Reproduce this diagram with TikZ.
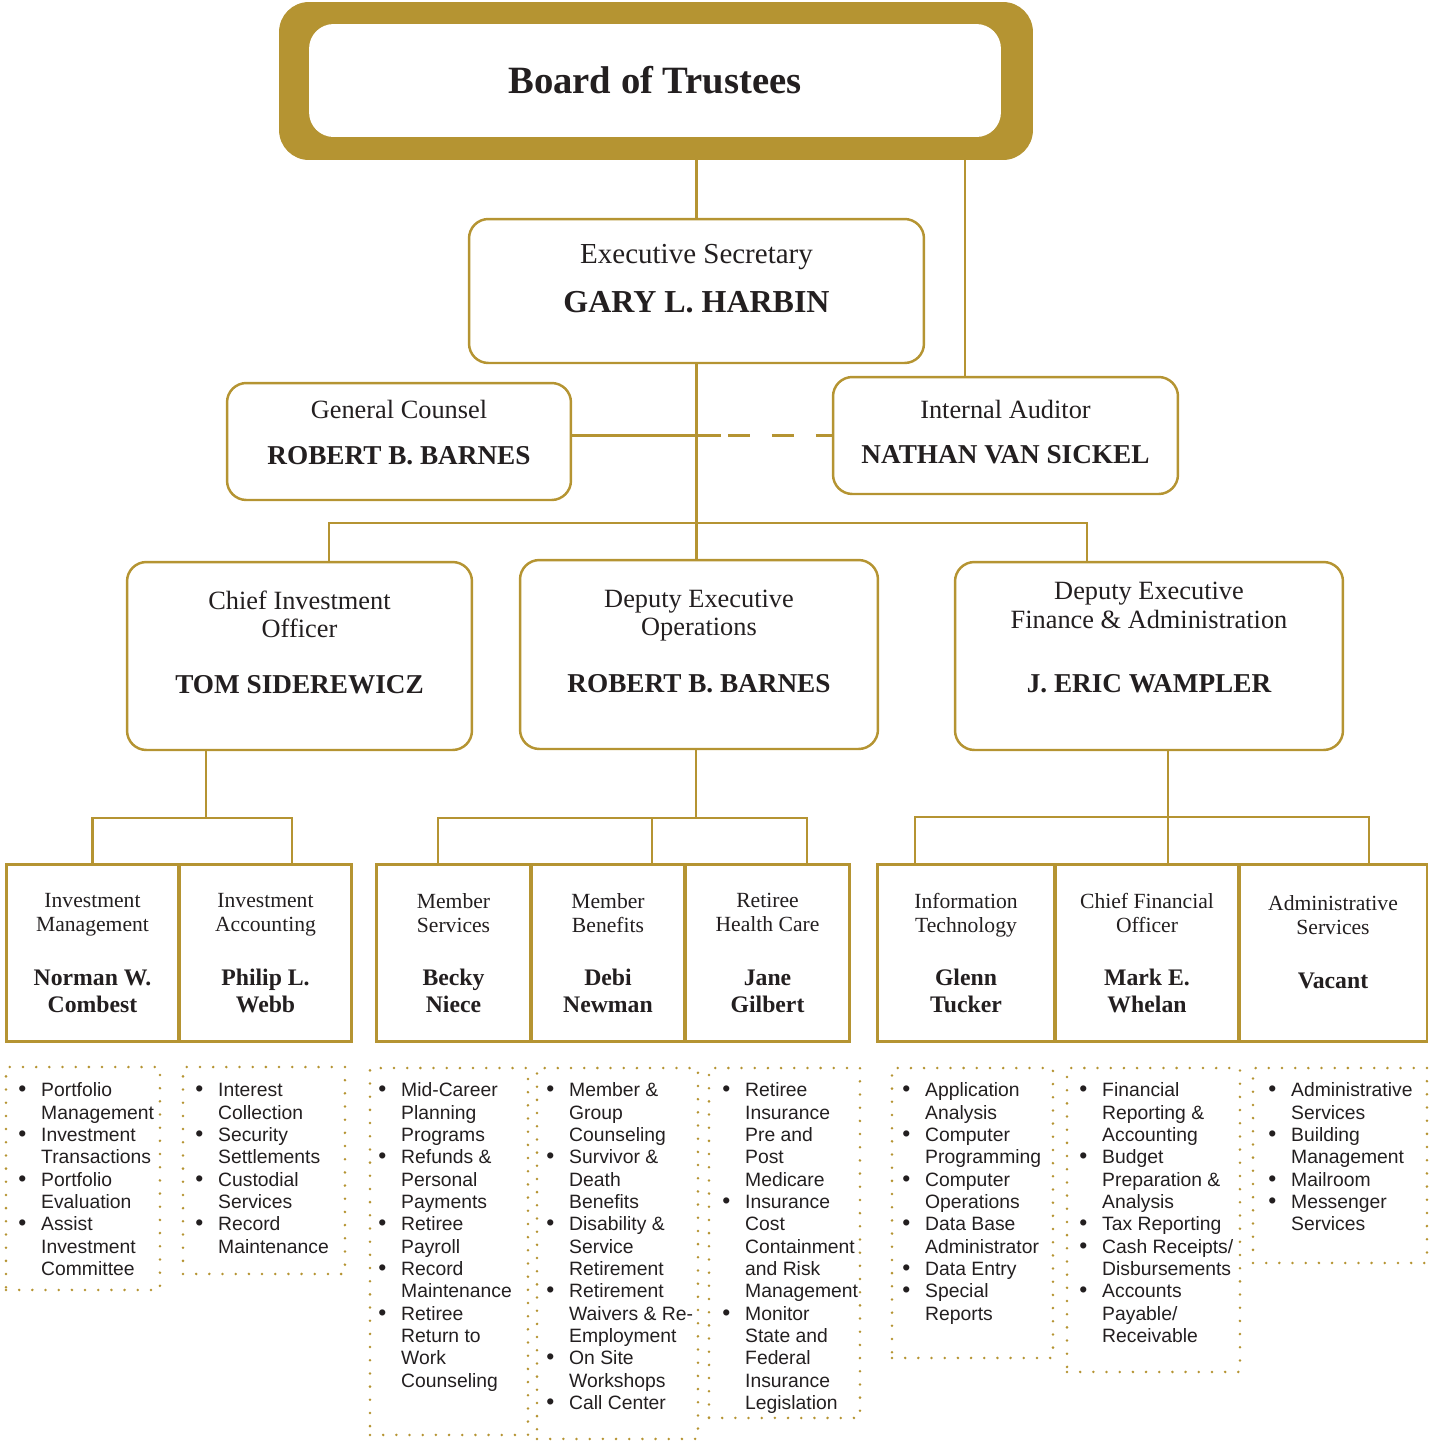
\documentclass[tikz,border=0pt]{standalone}
\usepackage{fontspec}
\setmainfont{Liberation Serif}
\setsansfont{Liberation Sans}
\definecolor{gold}{RGB}{181,148,50}
\definecolor{ink}{RGB}{35,31,32}
\newcommand{\postfont}{\fontsize{15}{16}\selectfont}
\newcommand{\namefont}{\fontsize{15.5}{16}\selectfont\bfseries}
\newcommand{\unitname}{\fontsize{13.5}{14}\selectfont\bfseries}
\newcommand{\blt}{{\fontsize{13}{12}\selectfont\textbullet}}

\begin{document}
\begin{tikzpicture}[x=0.02cm,y=-0.02cm,
post/.style={draw=gold,line width=1.4pt,rounded corners=11pt,fill=white,align=center,text=ink,font=\postfont},
unit/.style={draw=gold,line width=1.7pt,fill=white,align=center,text=ink,minimum height=3.54cm,font=\fontsize{12.3}{13.6}\selectfont},
duties/.style={draw=gold,line width=1.6pt,dash pattern=on 0pt off 7.5pt,line cap=round,anchor=north west,outer sep=0pt},
items/.style={anchor=north west,inner sep=0pt,text=ink,font=\sffamily\fontsize{11}{12.7}\selectfont},
link/.style={draw=gold,line width=1.4pt}]
\useasboundingbox (0,0) rectangle (1429,1441);

% board
\node (board) [fill=gold,rounded corners=17pt,minimum width=15.08cm,minimum height=3.16cm,inner sep=0pt] at (656,81) {};
\node (boardin) [fill=white,rounded corners=14pt,minimum width=13.84cm,minimum height=2.26cm,text=ink,
    font=\fontsize{22}{24}\selectfont\bfseries] at (655,80.5) {Board of Trustees};

% executive level
\node (exec) [post,minimum width=9.1cm,minimum height=2.88cm,text depth=14.2pt] at (696.5,291)
    {{\fontsize{16.5}{16}\selectfont Executive Secretary}\\[12.3pt]{\fontsize{18.2}{16}\selectfont\bfseries GARY L. HARBIN}};
\node (counsel) [post,minimum width=6.88cm,minimum height=2.34cm,text depth=10.8pt] at (399,441.5)
    {General Counsel\\[10.1pt]{\namefont ROBERT B. BARNES}};
\node (auditor) [post,minimum width=6.9cm,minimum height=2.34cm,text depth=4.5pt] at (1005.5,435.5)
    {Internal Auditor\\[9.5pt]{\namefont NATHAN VAN SICKEL}};

% deputies
\node (cio) [post,minimum width=6.9cm,minimum height=3.76cm,text depth=15.9pt] at (299.5,656)
    {Chief Investment\\Officer\\[15.7pt]{\namefont TOM SIDEREWICZ}};
\node (deo) [post,minimum width=7.16cm,minimum height=3.78cm,text depth=15.3pt] at (699,654.5)
    {Deputy Executive\\Operations\\[16.3pt]{\namefont ROBERT B. BARNES}};
\node (def) [post,minimum width=7.76cm,minimum height=3.76cm,text depth=21pt] at (1149,656)
    {Deputy Executive\\Finance \& Administration\\[20.8pt]{\namefont J. ERIC WAMPLER}};

% units
\node (invmgmt) [unit,minimum width=3.46cm] at (92.5,953)
    {Investment\\Management\\[17pt]{\unitname Norman W.}\\[1.7pt]{\unitname Combest}};
\node (invacct) [unit,minimum width=3.46cm] at (265.5,953)
    {Investment\\Accounting\\[17pt]{\unitname Philip L.}\\[1.7pt]{\unitname Webb}};
\node (memsvc) [unit,minimum width=3.1cm] at (453.5,953)
    {Member\\Services\\[17pt]{\unitname Becky}\\[1.7pt]{\unitname Niece}};
\node (memben) [unit,minimum width=3.08cm] at (608,953)
    {Member\\Benefits\\[17pt]{\unitname Debi}\\[1.7pt]{\unitname Newman}};
\node (rhc) [unit,minimum width=3.3cm] at (767.5,953)
    {Retiree\\Health Care\\[17pt]{\unitname Jane}\\[1.7pt]{\unitname Gilbert}};
\node (it) [unit,minimum width=3.56cm] at (966,953)
    {Information\\Technology\\[17pt]{\unitname Glenn}\\[1.7pt]{\unitname Tucker}};
\node (cfo) [unit,minimum width=3.68cm] at (1147,953)
    {Chief Financial\\Officer\\[17pt]{\unitname Mark E.}\\[1.7pt]{\unitname Whelan}};
\node (admin) [unit,minimum width=3.76cm,text depth=12.5pt] at (1333,953)
    {Administrative\\Services\\[17pt]{\unitname Vacant}};

% duty lists
\node (l-invmgmt) [duties,minimum width=3.08cm,minimum height=4.46cm] at (6,1067) {};
\node (d-invmgmt) [items] at ([shift={(12,14)}]l-invmgmt.north west) {\begin{tabular}{@{}p{13pt}@{}l@{}}
\blt & Portfolio\\ & Management\\
\blt & Investment\\ & Transactions\\
\blt & Portfolio\\ & Evaluation\\
\blt & Assist\\ & Investment\\ & Committee
\end{tabular}};

\node (l-invacct) [duties,minimum width=3.24cm,minimum height=4.14cm] at (183,1067) {};
\node (d-invacct) [items] at ([shift={(12,14)}]l-invacct.north west) {\begin{tabular}{@{}p{13pt}@{}l@{}}
\blt & Interest\\ & Collection\\
\blt & Security\\ & Settlements\\
\blt & Custodial\\ & Services\\
\blt & Record\\ & Maintenance
\end{tabular}};

\node (l-memsvc) [duties,minimum width=3.16cm,minimum height=7.34cm] at (370,1068) {};
\node (d-memsvc) [items] at ([shift={(8,13)}]l-memsvc.north west) {\begin{tabular}{@{}p{13pt}@{}l@{}}
\blt & Mid-Career\\ & Planning\\ & Programs\\
\blt & Refunds \&\\ & Personal\\ & Payments\\
\blt & Retiree\\ & Payroll\\
\blt & Record\\ & Maintenance\\
\blt & Retiree\\ & Return to\\ & Work\\ & Counseling
\end{tabular}};

\node (l-memben) [duties,minimum width=3.22cm,minimum height=7.42cm] at (537,1068) {};
\node (d-memben) [items] at ([shift={(9,13)}]l-memben.north west) {\begin{tabular}{@{}p{13pt}@{}l@{}}
\blt & Member \&\\ & Group\\ & Counseling\\
\blt & Survivor \&\\ & Death\\ & Benefits\\
\blt & Disability \&\\ & Service\\ & Retirement\\
\blt & Retirement\\ & Waivers \& Re-\\ & Employment\\
\blt & On Site\\ & Workshops\\
\blt & Call Center
\end{tabular}};

\node (l-rhc) [duties,minimum width=3.02cm,minimum height=7cm] at (709,1068) {};
\node (d-rhc) [items] at ([shift={(13,13)}]l-rhc.north west) {\begin{tabular}{@{}p{13pt}@{}l@{}}
\blt & Retiree\\ & Insurance\\ & Pre and\\ & Post\\ & Medicare\\
\blt & Insurance\\ & Cost\\ & Containment\\ & and Risk\\ & Management\\
\blt & Monitor\\ & State and\\ & Federal\\ & Insurance\\ & Legislation
\end{tabular}};

\node (l-it) [duties,minimum width=3.22cm,minimum height=5.8cm] at (892,1068) {};
\node (d-it) [items] at ([shift={(10,13)}]l-it.north west) {\begin{tabular}{@{}p{13pt}@{}l@{}}
\blt & Application\\ & Analysis\\
\blt & Computer\\ & Programming\\
\blt & Computer\\ & Operations\\
\blt & Data Base\\ & Administrator\\
\blt & Data Entry\\
\blt & Special\\ & Reports
\end{tabular}};

\node (l-cfo) [duties,minimum width=3.46cm,minimum height=6.08cm] at (1067,1068) {};
\node (d-cfo) [items] at ([shift={(12,13)}]l-cfo.north west) {\begin{tabular}{@{}p{13pt}@{}l@{}}
\blt & Financial\\ & Reporting \&\\ & Accounting\\
\blt & Budget\\ & Preparation \&\\ & Analysis\\
\blt & Tax Reporting\\
\blt & Cash Receipts/\\ & Disbursements\\
\blt & Accounts\\ & Payable/\\ & Receivable
\end{tabular}};

\node (l-admin) [duties,minimum width=3.48cm,minimum height=3.9cm] at (1253,1068) {};
\node (d-admin) [items] at ([shift={(15,13)}]l-admin.north west) {\begin{tabular}{@{}p{13pt}@{}l@{}}
\blt & Administrative\\ & Services\\
\blt & Building\\ & Management\\
\blt & Mailroom\\
\blt & Messenger\\ & Services
\end{tabular}};

% connectors
\draw [link] (exec.north) -- (exec.north |- board.south);
\coordinate (audtop) at ([xshift=-0.81cm]auditor.north);
\draw [link] (audtop) -- (audtop |- board.south);
\draw [link] (exec.south) -- (exec.south |- deo.north);
\coordinate (hub) at (696.5,523);
\draw [link] ([xshift=0.59cm]cio.north) |- (hub) -| ([xshift=-1.24cm]def.north);
\draw [link] (counsel.east |- auditor.west) -- ([xshift=-2.22cm]auditor.west);
\draw [link,dash pattern=on 0.44cm off 0.44cm] ([xshift=-2.08cm]auditor.west) -- (auditor.west);

\coordinate (cioj) at (206,818);
\draw [link] (cio.south -| cioj) -- (cioj);
\draw [link] (invmgmt.north) |- (cioj) -| ([xshift=0.53cm]invacct.north);

\coordinate (deoj) at (696,818);
\draw [link] (deo.south -| deoj) -- (deoj);
\draw [link] ([xshift=-0.31cm]memsvc.north) |- (deoj) -| ([xshift=0.79cm]rhc.north);
\coordinate (mbtop) at ([xshift=0.88cm]memben.north);
\draw [link] (mbtop) -- (mbtop |- deoj);

\coordinate (defj) at (1168,817);
\draw [link] (def.south -| defj) -- (defj) -- (defj |- cfo.north);
\draw [link] ([xshift=-1.02cm]it.north) |- (defj) -| ([xshift=0.72cm]admin.north);
\end{tikzpicture}
\end{document}
